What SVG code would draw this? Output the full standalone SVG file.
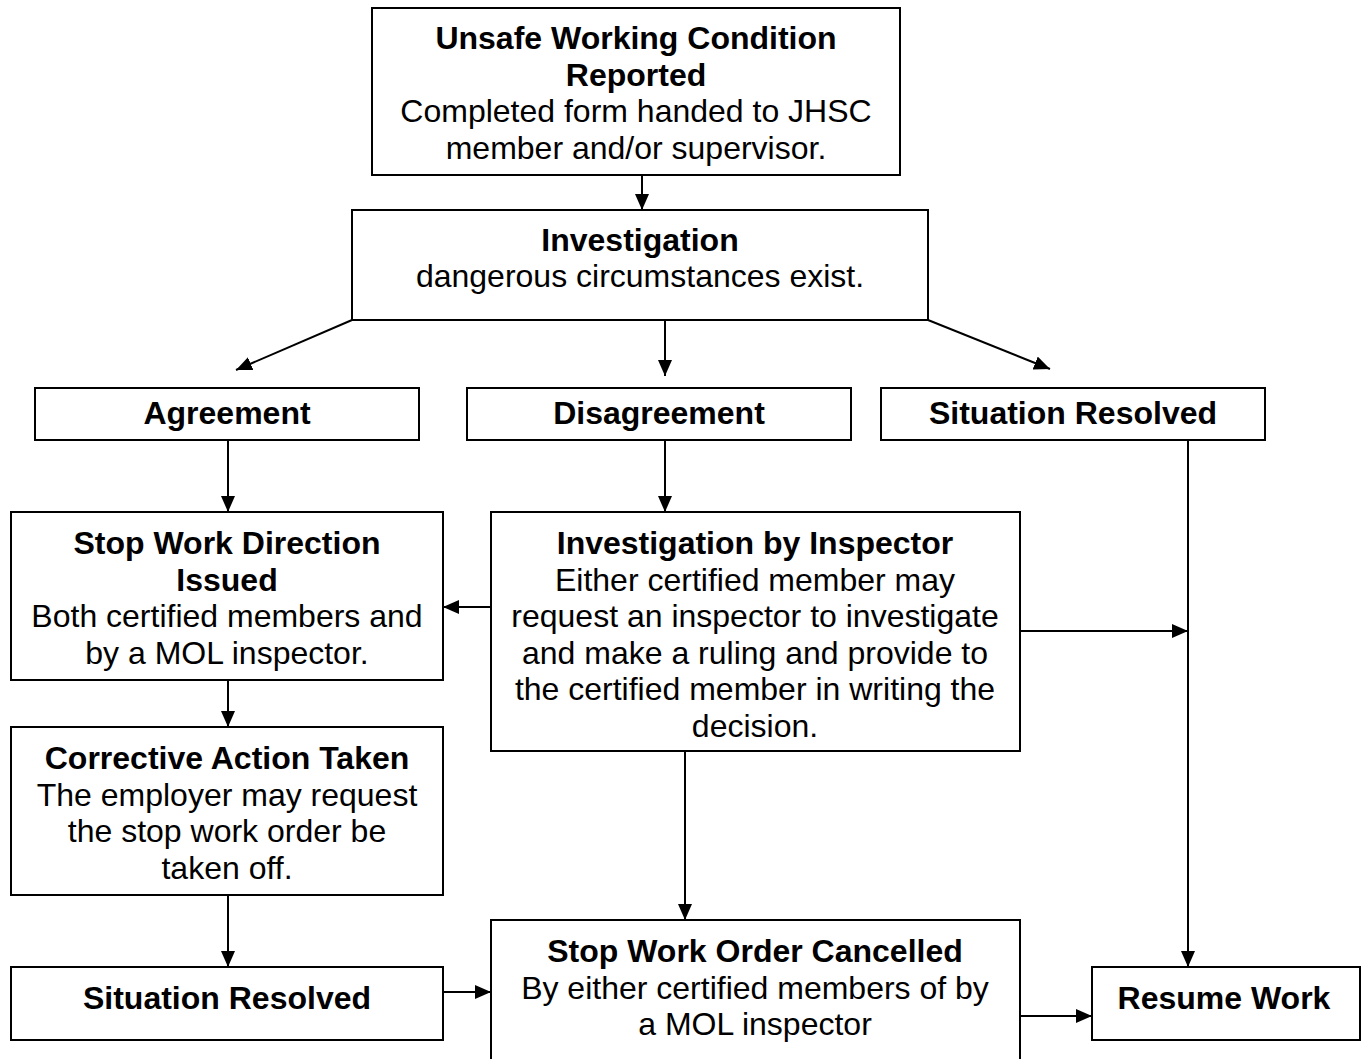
<svg xmlns="http://www.w3.org/2000/svg" width="1363" height="1059" viewBox="0 0 1363 1059">
<style>
.box{fill:#fff;stroke:#000;stroke-width:2}
text{font-family:"Liberation Sans",Arial,sans-serif;font-size:32px;fill:#000;text-anchor:middle}
.b{font-weight:bold}
.c{stroke:#000;stroke-width:2;fill:none}
</style>
<defs>
<marker id="ah" viewBox="0 0 16 14" refX="16" refY="7" markerWidth="16" markerHeight="14" markerUnits="userSpaceOnUse" orient="auto">
<path d="M0,0 L16,7 L0,14 Z" fill="#000"/>
</marker>
</defs>
<rect width="1363" height="1059" fill="#fff"/>
<g id="connectors">
<line class="c" x1="642" y1="175" x2="642" y2="210" marker-end="url(#ah)"/>
<line class="c" x1="352" y1="320" x2="236" y2="370" marker-end="url(#ah)"/>
<line class="c" x1="665" y1="320" x2="665" y2="376" marker-end="url(#ah)"/>
<line class="c" x1="928" y1="320" x2="1050" y2="369" marker-end="url(#ah)"/>
<line class="c" x1="228" y1="440" x2="228" y2="512" marker-end="url(#ah)"/>
<line class="c" x1="665" y1="440" x2="665" y2="512" marker-end="url(#ah)"/>
<line class="c" x1="491" y1="607" x2="443" y2="607" marker-end="url(#ah)"/>
<line class="c" x1="1020" y1="631" x2="1188" y2="631" marker-end="url(#ah)"/>
<line class="c" x1="1188" y1="440" x2="1188" y2="967" marker-end="url(#ah)"/>
<line class="c" x1="228" y1="680" x2="228" y2="727" marker-end="url(#ah)"/>
<line class="c" x1="228" y1="895" x2="228" y2="967" marker-end="url(#ah)"/>
<line class="c" x1="685" y1="751" x2="685" y2="920" marker-end="url(#ah)"/>
<line class="c" x1="443" y1="992" x2="491" y2="992" marker-end="url(#ah)"/>
<line class="c" x1="1020" y1="1016" x2="1092" y2="1016" marker-end="url(#ah)"/>
</g>
<g id="n-unsafe">
<rect class="box" x="372" y="8" width="528" height="167"/>
<text class="b" x="636" y="49">Unsafe Working Condition</text>
<text class="b" x="636" y="86">Reported</text>
<text x="636" y="122">Completed form handed to JHSC</text>
<text x="636" y="159">member and/or supervisor.</text>
</g>
<g id="n-investigation">
<rect class="box" x="352" y="210" width="576" height="110"/>
<text class="b" x="640" y="251">Investigation</text>
<text x="640" y="287">dangerous circumstances exist.</text>
</g>
<g id="n-agreement">
<rect class="box" x="35" y="388" width="384" height="52"/>
<text class="b" x="227" y="424">Agreement</text>
</g>
<g id="n-disagreement">
<rect class="box" x="467" y="388" width="384" height="52"/>
<text class="b" x="659" y="424">Disagreement</text>
</g>
<g id="n-resolved1">
<rect class="box" x="881" y="388" width="384" height="52"/>
<text class="b" x="1073" y="424">Situation Resolved</text>
</g>
<g id="n-stopdirection">
<rect class="box" x="11" y="512" width="432" height="168"/>
<text class="b" x="227" y="554">Stop Work Direction</text>
<text class="b" x="227" y="591">Issued</text>
<text x="227" y="627">Both certified members and</text>
<text x="227" y="664">by a MOL inspector.</text>
</g>
<g id="n-inspector">
<rect class="box" x="491" y="512" width="529" height="239"/>
<text class="b" x="755" y="554">Investigation by Inspector</text>
<text x="755" y="591">Either certified member may</text>
<text x="755" y="627">request an inspector to investigate</text>
<text x="755" y="664">and make a ruling and provide to</text>
<text x="755" y="700">the certified member in writing the</text>
<text x="755" y="737">decision.</text>
</g>
<g id="n-corrective">
<rect class="box" x="11" y="727" width="432" height="168"/>
<text class="b" x="227" y="769">Corrective Action Taken</text>
<text x="227" y="806">The employer may request</text>
<text x="227" y="842">the stop work order be</text>
<text x="227" y="879">taken off.</text>
</g>
<g id="n-resolved2">
<rect class="box" x="11" y="967" width="432" height="73"/>
<text class="b" x="227" y="1009">Situation Resolved</text>
</g>
<g id="n-cancelled">
<rect class="box" x="491" y="920" width="529" height="160"/>
<text class="b" x="755" y="962">Stop Work Order Cancelled</text>
<text x="755" y="999">By either certified members of by</text>
<text x="755" y="1035">a MOL inspector</text>
</g>
<g id="n-resume">
<rect class="box" x="1092" y="967" width="268" height="73"/>
<text class="b" x="1224" y="1009">Resume Work</text>
</g>
</svg>
